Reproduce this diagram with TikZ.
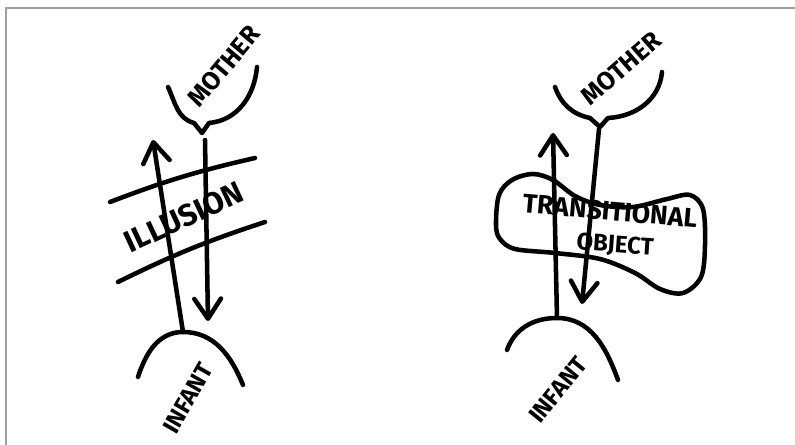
\documentclass[tikz,border=0pt]{standalone}
\usepackage{fontspec}
\setsansfont{Fira Sans}
\usetikzlibrary{arrows.meta}
\begin{document}
\begin{tikzpicture}[
x=0.75pt, y=0.75pt,
every node/.style={font=\sffamily\bfseries},
pen/.style={line width=3.4pt, line cap=round, line join=round},
flow/.style={pen, -{Straight Barb[round, length=15pt, width=20pt]}},
frame/.style={gray!75, line width=1.2pt},
label/.style={font=\sffamily\bfseries\fontsize{#1}{#1}\selectfont, inner sep=0pt}
]

    \useasboundingbox (0,0) rectangle (795,445);

    % Frame
    \draw[frame] (6,0) -- (6,437) -- (795,437);

    % Left: mother and infant
    \draw[pen] (168,358) to[out=-65,in=165] (194,322) -- (202,312) -- (209,322)
        to[out=5,in=-95] (257,378);
    \draw[pen] (138,68) to[out=72,in=180] (183,113) to[out=0,in=112] (243,60);
    \coordinate (motherA) at (205,305);
    \coordinate (downA) at (208,124);
    \coordinate (infantA) at (183,113);
    \coordinate (upA) at (153,305);

    \draw[flow] (infantA) -- (upA);
    \draw[flow] (motherA) -- (downA);

    % Illusion band
    \draw[pen] (110,243) to[bend left=4] (255,287);
    \draw[pen] (118,163) to[bend left=4] (265,223);

    \node[label=19, rotate=50] (motherL) at (224,379) {MOTHER};
    \node[label=18, rotate=60] (infantL) at (188,47) {INFANT};
    \node[label=23, rotate=25] (illusion) at (184,228) {ILLUSION};

    % Right: mother and infant
    \draw[pen] (555,358) to[out=-70,in=168] (590,327) -- (600,318) -- (608,327)
        to[out=3,in=-95] (662,373);
    \draw[pen] (507,95) to[out=70,in=180] (557,127) to[out=0,in=110] (618,65);
    \coordinate (motherB) at (599,316);
    \coordinate (downB) at (582,141);
    \coordinate (infantB) at (557,127);
    \coordinate (upB) at (553,312);

    \draw[flow] (infantB) -- (upB);
    \draw[flow] (motherB) -- (downB);

    % Transitional object
    \draw[pen] plot[smooth cycle, tension=0.55] coordinates {
        (496,220) (499,250) (512,265) (533,271) (553,265) (575,249) (600,240)
        (633,238) (667,246) (690,250) (703,236) (705,200) (701,168) (683,152)
        (660,156) (635,172) (600,186) (555,192) (515,196) (500,206)};

    \node[label=20, rotate=-5] (transit) at (610,234) {TRANSITIONAL};
    \node[label=18, rotate=-4] (object) at (615,199) {OBJECT};

    \node[label=19, rotate=41] (motherR) at (621,377) {MOTHER};
    \node[label=18, rotate=51] (infantR) at (558,55) {INFANT};

\end{tikzpicture}
\end{document}
